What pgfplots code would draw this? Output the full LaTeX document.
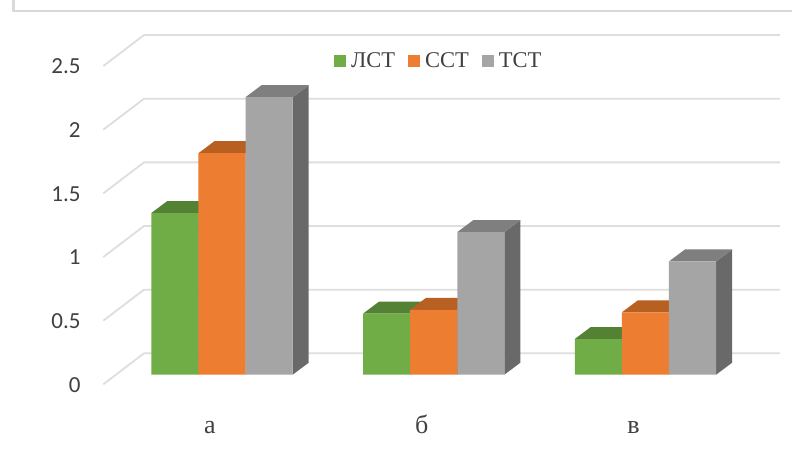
\documentclass[border=0pt]{standalone}
\usepackage{fontspec}
\usepackage{pgfplots}
\usepackage{pgfplotstable}
\pgfplotsset{compat=1.18}
\setmainfont{Liberation Serif}
\newfontfamily\ticksfont{Carlito}

\definecolor{wallgrid}{HTML}{DEDEDE}
\definecolor{framegrey}{HTML}{D9D9D9}
\definecolor{inktext}{HTML}{404040}
\definecolor{lstfront}{HTML}{70AD47}
\definecolor{lsttop}{HTML}{548235}
\definecolor{cstfront}{HTML}{ED7D31}
\definecolor{csttop}{HTML}{B85F22}
\definecolor{tstfront}{HTML}{A5A5A5}
\definecolor{tsttop}{HTML}{7F7F7F}
\definecolor{tstside}{HTML}{696969}

% Values per group: a, b, v
\pgfplotstableread{
cat lst  cst  tst
0   1.27 1.74 2.18
1   0.48 0.51 1.12
2   0.28 0.49 0.89
}\chartdata

% Depth of the extruded bars in data units
\newcommand{\ddx}{0.0756}
\newcommand{\ddy}{0.0943}
\newcommand{\barw}{0.2225}

% Square legend key, with a little extra room before its text
\pgfplotsset{swatch/.style={legend image code/.code={
  \path (0pt,0pt) -- (15pt,0pt);
  \fill[##1] (0pt,-6pt) rectangle (12pt,6pt);
}}}

% Top and right faces of one bar: {group}{offset of left edge}{value}{top colour}{side colour}
\newcommand{\depthfaces}[5]{%
  \pgfmathsetmacro{\xl}{#1+#2}%
  \pgfmathsetmacro{\xr}{\xl+\barw}%
  \pgfmathsetmacro{\xlb}{\xl+\ddx}%
  \pgfmathsetmacro{\xrb}{\xr+\ddx}%
  \pgfmathsetmacro{\vb}{#3+\ddy}%
  \addplot[forget plot,fill=#5,draw=none] coordinates {(\xr,0) (\xrb,\ddy) (\xrb,\vb) (\xr,#3)} --cycle;
  \addplot[forget plot,fill=#4,draw=none] coordinates {(\xl,#3) (\xlb,\vb) (\xrb,\vb) (\xr,#3)} --cycle;
}

\begin{document}
\begin{tikzpicture}[x=1pt,y=1pt]
\path[use as bounding box,fill=white] (0,0) rectangle (792,459);
% Chart frame
\draw[framegrey,line width=2.8pt] (13.5,459) -- (13.5,446.8);
\draw[framegrey,line width=2pt] (12.1,447.8) -- (792,447.8);
\begin{axis}[
  at={(116.15pt,84.3pt)},anchor=south west,
  x=211.7pt,y=127.3pt,
  xmin=-0.5,xmax=2.5,ymin=0,ymax=2.5,
  clip=false,
  axis line style={draw=none},
  major tick style={draw=none},
  xtick={0,1,2},
  xticklabels={а,б,в},
  ytick={0,0.5,1,1.5,2,2.5},
  yticklabels={0,0.5,1,1.5,2,2.5},
  tick align=outside,
  major tick length=0pt,
  xticklabel style={font=\fontsize{26}{26}\selectfont,text=inktext,anchor=base,
    xshift=-12pt,yshift=-59pt},
  yticklabel style={font=\ticksfont\fontsize{23}{23}\selectfont,text=inktext,anchor=east,
    xshift=-32pt,yshift=-10pt},
  legend style={
    at={(0.5078,0.9857)},anchor=center,
    draw=none,fill=none,
    font=\fontsize{22.5}{22.5}\selectfont,text=inktext,
    legend columns=3,
    /tikz/every even column/.append style={column sep=11pt},
    inner sep=0pt,outer sep=0pt,
    legend cell align=left,
  },
]
% Slanted gridlines on side wall and back wall
\addplot[forget plot,wallgrid,line width=1.8pt] coordinates {(-0.5607,-0.0754) (-0.3684,0.168) (2.6357,0.168)};
\addplot[forget plot,wallgrid,line width=1.8pt] coordinates {(-0.5607,0.4246) (-0.3684,0.668) (2.6357,0.668)};
\addplot[forget plot,wallgrid,line width=1.8pt] coordinates {(-0.5607,0.9246) (-0.3684,1.168) (2.6357,1.168)};
\addplot[forget plot,wallgrid,line width=1.8pt] coordinates {(-0.5607,1.4246) (-0.3684,1.668) (2.6357,1.668)};
\addplot[forget plot,wallgrid,line width=1.8pt] coordinates {(-0.5607,1.9246) (-0.3684,2.168) (2.6357,2.168)};
\addplot[forget plot,wallgrid,line width=1.8pt] coordinates {(-0.5607,2.4246) (-0.3684,2.668) (2.6357,2.668)};

% First series
\depthfaces{0}{-0.3338}{1.27}{lsttop}{lsttop}
\depthfaces{1}{-0.3338}{0.48}{lsttop}{lsttop}
\depthfaces{2}{-0.3338}{0.28}{lsttop}{lsttop}
\addplot[ybar,bar width=47.1pt,bar shift=-47.1pt,fill=lstfront,draw=none,swatch] table[x=cat,y=lst] {\chartdata};
\addlegendentry{ЛСТ}

% Second series
\depthfaces{0}{-0.1113}{1.74}{csttop}{csttop}
\depthfaces{1}{-0.1113}{0.51}{csttop}{csttop}
\depthfaces{2}{-0.1113}{0.49}{csttop}{csttop}
\addplot[ybar,bar width=47.1pt,bar shift=0pt,fill=cstfront,draw=none,swatch] table[x=cat,y=cst] {\chartdata};
\addlegendentry{ССТ}

% Third series
\depthfaces{0}{0.1113}{2.18}{tsttop}{tstside}
\depthfaces{1}{0.1113}{1.12}{tsttop}{tstside}
\depthfaces{2}{0.1113}{0.89}{tsttop}{tstside}
\addplot[ybar,bar width=47.1pt,bar shift=47.1pt,fill=tstfront,draw=none,swatch] table[x=cat,y=tst] {\chartdata};
\addlegendentry{ТСТ}
\end{axis}
\end{tikzpicture}
\end{document}
